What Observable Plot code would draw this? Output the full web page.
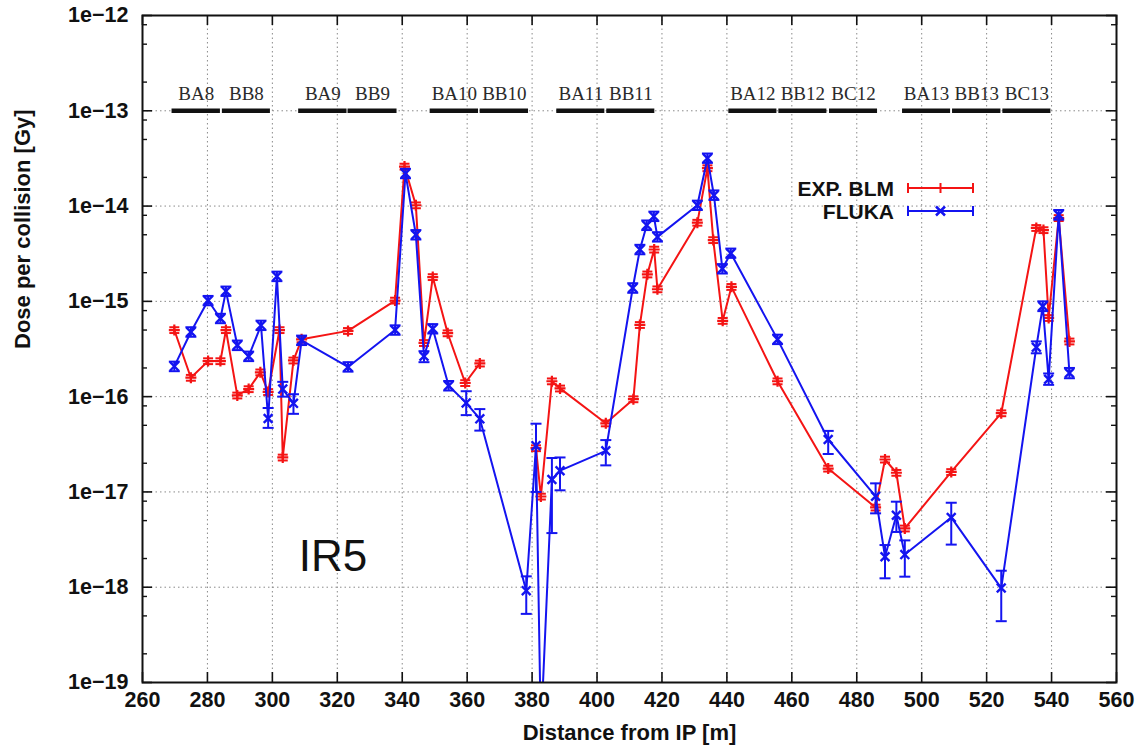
<!DOCTYPE html>
<html><head><meta charset="utf-8">
<script src="https://cdn.jsdelivr.net/npm/d3@7"></script>
<script src="https://cdn.jsdelivr.net/npm/@observablehq/plot@0.6"></script>
<style>html,body{margin:0;padding:0;background:#fff;}</style>
</head><body><div id="chart"></div>
<script>
// ---- EXP. BLM (red) ----
const redX = [269.8,274.9,280.2,284.0,285.7,289.2,292.7,296.3,298.7,302.2,303.2,306.5,309.0,323.3,337.8,340.7,344.2,346.7,349.4,354.0,359.4,363.9,
              381.2,382.7,386.1,388.6,402.7,411.2,413.2,415.5,417.6,418.6,430.9,434.0,435.8,438.7,441.4,455.6,471.2,485.8,488.7,492.2,494.8,509.1,524.5,535.3,537.5,539.1,542.2,545.5];
const redY = [5.0e-16,1.58e-16,2.36e-16,2.36e-16,5.0e-16,1.03e-16,1.2e-16,1.8e-16,1.12e-16,5.0e-16,2.3e-17,2.4e-16,4.0e-16,4.9e-16,1.02e-15,2.6e-14,1.02e-14,3.66e-16,1.8e-15,4.63e-16,1.39e-16,2.23e-16,
              2.88e-17,8.95e-18,1.45e-16,1.22e-16,5.25e-17,9.4e-17,5.66e-16,1.92e-15,3.5e-15,1.34e-15,6.7e-15,2.5e-14,4.4e-15,6.25e-16,1.42e-15,1.45e-16,1.76e-17,6.87e-18,2.19e-17,1.59e-17,4.14e-18,1.62e-17,6.7e-17,5.9e-15,5.6e-15,6.7e-16,7.5e-15,3.8e-16];
const redSeg = [1,1,1,1,1,1,1,1,1,1,1,1,1,1,1,1,1,1,1,1,1,1,
                2,2,2,2,2,2,2,2,2,2,2,2,2,2,2,2,2,2,2,2,2,2,2,2,2,2,2,2];
const redRelErr = 0.07;

// ---- FLUKA (blue) ----
const blueX = [269.8,274.9,280.2,284.0,285.7,289.2,292.7,296.5,298.7,301.4,303.2,306.5,309.0,323.3,337.8,341.0,344.2,346.7,349.4,354.3,359.7,363.9,
               378.2,381.2,382.7,386.1,388.6,402.7,411.0,413.2,415.3,417.5,418.6,430.9,434.0,436.0,438.6,441.2,455.6,471.2,485.8,488.7,492.2,494.8,509.1,524.5,535.3,537.3,539.1,542.2,545.5];
const blueY = [2.08e-16,4.77e-16,1.02e-15,6.6e-16,1.28e-15,3.46e-16,2.65e-16,5.6e-16,5.9e-17,1.83e-15,1.2e-16,8.5e-17,3.9e-16,2.05e-16,5.0e-16,2.2e-14,5.0e-15,2.65e-16,5.15e-16,1.3e-16,8.6e-17,5.85e-17,
               9.2e-19,3.06e-17,3e-20,1.35e-17,1.67e-17,2.7e-17,1.38e-15,3.5e-15,6.3e-15,7.8e-15,4.75e-15,1.02e-14,3.18e-14,1.3e-14,2.2e-15,3.2e-15,3.99e-16,3.55e-17,9.0e-18,2.09e-18,5.7e-18,2.2e-18,5.4e-18,9.8e-19,3.3e-16,8.9e-16,1.52e-16,8.1e-15,1.77e-16];
const blueLo = [1.85e-16,4.25e-16,0.91e-15,5.9e-16,1.14e-15,3.08e-16,2.36e-16,5.0e-16,4.7e-17,1.63e-15,1.0e-16,6.6e-17,3.48e-16,1.83e-16,4.46e-16,1.96e-14,4.46e-15,2.3e-16,4.6e-16,1.16e-16,6.4e-17,4.4e-17,
                5.25e-19,1.0e-17,3e-20,3.7e-18,1.04e-17,1.9e-17,1.23e-15,3.12e-15,5.6e-15,6.96e-15,4.24e-15,0.91e-14,2.84e-14,1.16e-14,1.96e-15,2.86e-15,3.56e-16,2.5e-17,5.96e-18,1.24e-18,3.8e-18,1.29e-18,2.8e-18,4.4e-19,2.85e-16,7.9e-16,1.33e-16,7.2e-15,1.56e-16];
const blueHi = [2.33e-16,5.35e-16,1.14e-15,7.4e-16,1.43e-15,3.88e-16,2.97e-16,6.27e-16,7.6e-17,2.05e-15,1.43e-16,1.06e-16,4.37e-16,2.3e-16,5.6e-16,2.46e-14,5.6e-15,3.0e-16,5.77e-16,1.46e-16,1.14e-16,7.4e-17,
                1.3e-18,5.2e-17,3e-20,2.27e-17,2.3e-17,3.5e-17,1.55e-15,3.92e-15,7.06e-15,8.74e-15,5.32e-15,1.14e-14,3.56e-14,1.46e-14,2.46e-15,3.58e-15,4.47e-16,4.37e-17,1.23e-17,2.77e-18,7.9e-18,3.1e-18,7.7e-18,1.49e-18,3.8e-16,1.0e-15,1.75e-16,9.1e-15,2.0e-16];

// ---- magnets ----
const magnetNames = ["BA8","BB8","BA9","BB9","BA10","BB10","BA11","BB11","BA12","BB12","BC12","BA13","BB13","BC13"];
const magnetStart = [269.1,284.6,308.1,323.3,348.6,364.0,387.6,403.0,440.6,456.0,471.6,494.1,509.5,525.0];
const magnetEnd   = [284.0,299.4,323.0,338.4,363.5,378.9,402.4,417.8,455.4,470.8,486.4,508.9,524.4,539.8];
const magnetLevel = 1e-13;

// ---- axes ----
const xTicks = [260,280,300,320,340,360,380,400,420,440,460,480,500,520,540,560];
const xTickLabels = ["260","280","300","320","340","360","380","400","420","440","460","480","500","520","540","560"];
const yTicks = [1e-19,1e-18,1e-17,1e-16,1e-15,1e-14,1e-13,1e-12];
const yTickLabels = ["1e\u221219","1e\u221218","1e\u221217","1e\u221216","1e\u221215","1e\u221214","1e\u221213","1e\u221212"];
const yMinorMantissa = [2,5,8];
const annotation = [{text: "IR5", x: 308.1, y: 2.1e-18}];

const RED = "#f41414", BLUE = "#1414f0";
const W = 1141, H = 751, ML = 142, MR = 25, MT = 15, MB = 69;
const innerW = W - ML - MR, innerH = H - MT - MB;

const red = redX.map((x, i) => ({x, y: redY[i], seg: redSeg[i], lo: redY[i] * (1 - redRelErr), hi: redY[i] * (1 + redRelErr)}));
const blue = blueX.map((x, i) => ({x, y: blueY[i], lo: blueLo[i], hi: blueHi[i]}));
const magnets = magnetNames.map((name, i) => ({name, x1: magnetStart[i], x2: magnetEnd[i], mid: (magnetStart[i] + magnetEnd[i]) / 2}));
const yMinor = [];
yTicks.slice(0, -1).forEach(t => yMinorMantissa.forEach(m => yMinor.push(t * m)));

const plusSym = {draw(ctx, size) { const r = Math.sqrt(size / Math.PI); ctx.moveTo(-r, 0); ctx.lineTo(r, 0); ctx.moveTo(0, -r); ctx.lineTo(0, r); }};
const crossSym = {draw(ctx, size) { const r = Math.sqrt(size / Math.PI) * 0.8; ctx.moveTo(-r, -r); ctx.lineTo(r, r); ctx.moveTo(-r, r); ctx.lineTo(r, -r); }};
const capSym = {draw(ctx, size) { const r = Math.sqrt(size / Math.PI); ctx.moveTo(-r, 0); ctx.lineTo(r, 0); }};

function legend(index, scales, values, dims) {
  const g = d3.create("svg:g");
  const xr = dims.width - dims.marginRight;
  const items = [
    {label: "EXP. BLM", color: RED, y: dims.marginTop + 173, sym: "plus"},
    {label: "FLUKA", color: BLUE, y: dims.marginTop + 196, sym: "cross"}
  ];
  for (const it of items) {
    g.append("text").attr("x", xr - 222).attr("y", it.y).attr("dy", "0.36em")
      .attr("text-anchor", "end").attr("font-size", 21).attr("font-weight", "bold").attr("fill", "#111").text(it.label);
    const x1 = xr - 208, x2 = xr - 143, xm = (x1 + x2) / 2;
    g.append("line").attr("x1", x1).attr("x2", x2).attr("y1", it.y).attr("y2", it.y).attr("stroke", it.color).attr("stroke-width", 2);
    for (const xx of [x1, x2]) g.append("line").attr("x1", xx).attr("x2", xx).attr("y1", it.y - 5).attr("y2", it.y + 5).attr("stroke", it.color).attr("stroke-width", 2);
    if (it.sym === "plus") {
      g.append("line").attr("x1", xm).attr("x2", xm).attr("y1", it.y - 5).attr("y2", it.y + 5).attr("stroke", it.color).attr("stroke-width", 2);
    } else {
      g.append("path").attr("d", `M${xm-4.5},${it.y-4.5}L${xm+4.5},${it.y+4.5}M${xm-4.5},${it.y+4.5}L${xm+4.5},${it.y-4.5}`).attr("stroke", it.color).attr("stroke-width", 2.5);
    }
  }
  return g.node();
}

const chart = Plot.plot({
  width: W, height: H,
  marginLeft: ML, marginRight: MR, marginTop: MT, marginBottom: MB,
  style: {fontFamily: "Liberation Sans, Arial, sans-serif", fontSize: "21.5px", fontWeight: "bold", background: "#fff", color: "#111"},
  x: {domain: [260, 560], axis: null},
  y: {type: "log", domain: [1e-19, 1e-12], axis: null},
  marks: [
    Plot.gridX(xTicks.slice(1, -1), {stroke: "#8a8a8a", strokeOpacity: 1, strokeWidth: 1, strokeDasharray: "1.5,3"}),
    Plot.gridY(yTicks.slice(1, -1), {stroke: "#8a8a8a", strokeOpacity: 1, strokeWidth: 1, strokeDasharray: "1.5,3"}),
    // axis tick marks, inward
    Plot.ruleX(xTicks, {x: d => d, insetTop: innerH - 10, stroke: "#111", strokeWidth: 1.6}),
    Plot.ruleX(xTicks, {x: d => d, insetBottom: innerH - 10, stroke: "#111", strokeWidth: 1.6}),
    Plot.ruleY(yTicks, {y: d => d, insetRight: innerW - 10, stroke: "#111", strokeWidth: 1.6}),
    Plot.ruleY(yTicks, {y: d => d, insetLeft: innerW - 10, stroke: "#111", strokeWidth: 1.6}),
    Plot.ruleY(yMinor, {y: d => d, insetRight: innerW - 5, stroke: "#111", strokeWidth: 1.4}),
    Plot.ruleY(yMinor, {y: d => d, insetLeft: innerW - 5, stroke: "#111", strokeWidth: 1.4}),
    Plot.axisX({ticks: xTicks, tickFormat: d => xTickLabels[xTicks.indexOf(d)], tickSize: 0, tickPadding: 9, label: null}),
    Plot.axisY({ticks: yTicks, tickFormat: d => yTickLabels[yTicks.indexOf(d)], tickSize: 0, tickPadding: 14, label: null}),
    Plot.text(["Distance from IP [m]"], {frameAnchor: "bottom", dy: 57, fontSize: 22, fontWeight: "bold", fill: "#111"}),
    Plot.text(["Dose per collision [Gy]"], {frameAnchor: "left", rotate: -90, dx: -120, fontSize: 22, fontWeight: "bold", fill: "#111"}),
    // magnets
    Plot.ruleY(magnets, {x1: "x1", x2: "x2", y: () => magnetLevel, stroke: "#111", strokeWidth: 4.6}),
    Plot.text(magnets, {x: "mid", y: () => magnetLevel, text: "name", dy: -17, fontFamily: "Liberation Serif, Times New Roman, serif", fontSize: 19, fontWeight: "normal", fill: "#2a2a2a"}),
    // red series
    Plot.line(red, {x: "x", y: "y", z: "seg", stroke: RED, strokeWidth: 2}),
    Plot.ruleX(red, {x: "x", y1: "lo", y2: "hi", stroke: RED, strokeWidth: 2}),
    Plot.dot(red, {x: "x", y: "lo", symbol: capSym, r: 5, stroke: RED, strokeWidth: 2, fill: "none"}),
    Plot.dot(red, {x: "x", y: "hi", symbol: capSym, r: 5, stroke: RED, strokeWidth: 2, fill: "none"}),
    Plot.dot(red, {x: "x", y: "y", symbol: plusSym, r: 5.5, stroke: RED, strokeWidth: 2.2, fill: "none"}),
    // blue series
    Plot.line(blue, {x: "x", y: "y", stroke: BLUE, strokeWidth: 2, clip: true}),
    Plot.ruleX(blue, {x: "x", y1: "lo", y2: "hi", stroke: BLUE, strokeWidth: 2, clip: true}),
    Plot.dot(blue, {x: "x", y: "lo", symbol: capSym, r: 5.5, stroke: BLUE, strokeWidth: 2, fill: "none", clip: true}),
    Plot.dot(blue, {x: "x", y: "hi", symbol: capSym, r: 5.5, stroke: BLUE, strokeWidth: 2, fill: "none", clip: true}),
    Plot.dot(blue, {x: "x", y: "y", symbol: crossSym, r: 5.5, stroke: BLUE, strokeWidth: 2.4, fill: "none", clip: true}),
    Plot.text(annotation, {x: "x", y: "y", text: "text", textAnchor: "start", lineAnchor: "middle", fontSize: 44, fontWeight: "normal", fill: "#111"}),
    Plot.frame({stroke: "#111", strokeWidth: 2}),
    legend
  ]
});
document.getElementById("chart").appendChild(chart);
</script>
</body></html>
